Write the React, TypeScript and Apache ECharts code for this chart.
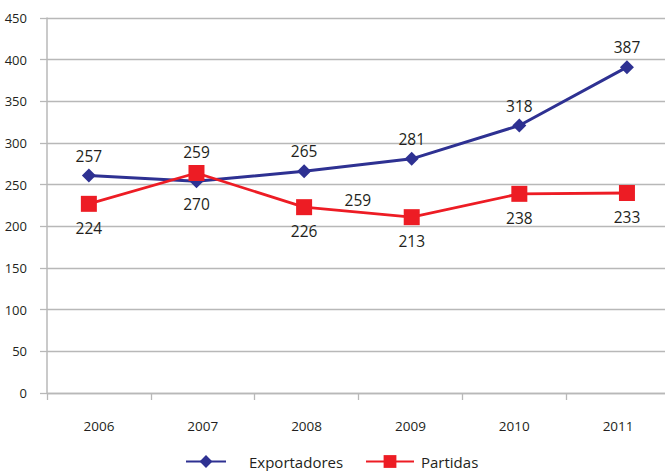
import React, { useEffect, useRef } from "react";
import * as echarts from "echarts";

const categories = ["2006", "2007", "2008", "2009", "2010", "2011"];
const exportadores = [261, 254, 266, 281, 321, 391];
const exportadoresLabels = ["257", "270", "265", "281", "318", "387"];
const partidas = [227, 264, 223, 211, 239, 240];
const partidasLabels = ["224", "259", "226", "213", "238", "233"];
const strayLabel = { text: "259", at: 2.5, value: 232 };

const BLUE = "#2e3192";
const RED = "#ed1c24";
const TEXT = "#231f20";
const GRID = "#b8b8b8";
const FONT = "'Open Sans', 'Noto Sans', sans-serif";

export default function App() {
  const ref = useRef<HTMLDivElement>(null);
  useEffect(() => {
    if (!ref.current) return;
    const chart = echarts.init(ref.current, undefined, { renderer: "svg" });

    const labelFor = (
      values: number[],
      other: number[],
      labels: string[],
      i: number
    ) => {
      const top = values[i] >= other[i];
      return {
        show: true,
        position: top ? "top" : "bottom",
        distance: top ? 5 : 8,
        formatter: () => labels[i],
        color: TEXT,
        fontSize: 15.5,
        fontFamily: FONT,
      };
    };

    chart.setOption({
      animation: false,
      grid: { left: 47, right: 0, top: 18, bottom: 78 },
      xAxis: [
        {
          type: "category",
          data: categories,
          boundaryGap: true,
          axisLine: { show: true, onZero: false, lineStyle: { color: GRID, width: 1.3 } },
          axisTick: { show: true, length: 7, lineStyle: { color: GRID, width: 1.3 } },
          axisLabel: { color: TEXT, fontSize: 13.5, fontFamily: FONT, margin: 26 },
          splitLine: { show: false },
        },
        {
          type: "value",
          show: false,
          min: -0.389,
          max: 5.4,
          splitLine: { show: false },
          axisLine: { show: false, onZero: false },
        },
      ],
      yAxis: {
        type: "value",
        min: 0,
        max: 450,
        interval: 50,
        axisLine: { show: true, onZero: false, lineStyle: { color: GRID, width: 1.5 } },
        axisTick: { show: true, length: 7, lineStyle: { color: GRID, width: 1.3 } },
        axisLabel: { color: TEXT, fontSize: 13, fontFamily: FONT, margin: 20 },
        splitLine: { show: true, lineStyle: { color: GRID, width: 1.3 } },
      },
      legend: [
        {
          data: ["Exportadores"],
          left: 185,
          top: 454,
          padding: 0,
          itemWidth: 40,
          itemHeight: 16,
          textStyle: { color: TEXT, fontSize: 15, fontFamily: FONT, padding: [0, 0, 0, 18] },
        },
        {
          data: ["Partidas"],
          left: 365,
          top: 454,
          padding: 0,
          itemWidth: 48,
          itemHeight: 16,
          textStyle: { color: TEXT, fontSize: 15, fontFamily: FONT, padding: [0, 0, 0, 2] },
        },
      ],
      series: [
        {
          name: "Exportadores",
          type: "line",
          xAxisIndex: 1,
          data: exportadores.map((v, i) => ({
            value: [i, v],
            label: labelFor(exportadores, partidas, exportadoresLabels, i),
          })),
          symbol: "diamond",
          symbolSize: 14,
          lineStyle: { color: BLUE, width: 3 },
          itemStyle: { color: BLUE },
          z: 2,
        },
        {
          name: "Partidas",
          type: "line",
          xAxisIndex: 1,
          data: partidas.map((v, i) => ({
            value: [i, v],
            label: labelFor(partidas, exportadores, partidasLabels, i),
          })),
          symbol: "rect",
          symbolSize: 16,
          lineStyle: { color: RED, width: 2.8 },
          itemStyle: { color: RED },
          z: 3,
        },
        {
          name: "stray",
          type: "scatter",
          xAxisIndex: 1,
          silent: true,
          symbolSize: 1,
          itemStyle: { color: "rgba(255,255,255,0)" },
          data: [[strayLabel.at, strayLabel.value]],
          label: {
            show: true,
            position: "inside",
            formatter: () => strayLabel.text,
            color: TEXT,
            opacity: 1,
            textBorderWidth: 0,
            fontSize: 15.5,
            fontFamily: FONT,
          },
          z: 4,
        },
      ],
    });
    return () => chart.dispose();
  }, []);

  return (
    <div
      style={{
        position: "absolute",
        left: 0,
        top: 0,
        width: 665,
        height: 471,
        overflow: "hidden",
        background: "#fff",
      }}
    >
      <div ref={ref} style={{ width: 670, height: 471 }} />
    </div>
  );
}
